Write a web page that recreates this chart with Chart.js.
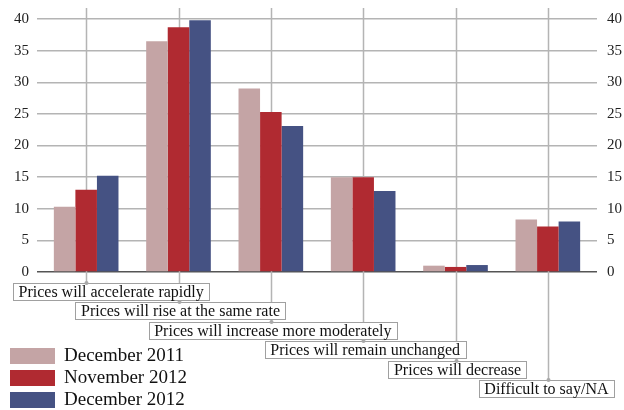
<!DOCTYPE html>
<html>
<head>
<meta charset="utf-8">
<script src="https://cdn.jsdelivr.net/npm/chart.js@4"></script>
<style>
html,body{margin:0;padding:0;background:#fff;}
#wrap{width:624px;height:410px;position:relative;}
</style>
</head>
<body>
<div id="wrap"><canvas id="c" width="624" height="410"></canvas></div>
<script>
const categories = [
  "Prices will accelerate rapidly",
  "Prices will rise at the same rate",
  "Prices will increase more moderately",
  "Prices will remain unchanged",
  "Prices will decrease",
  "Difficult to say/NA"
];
const seriesNames = ["December 2011", "November 2012", "December 2012"];
const dec2011 = [10.3, 36.5, 29.0, 15.0, 1.0, 8.3];
const nov2012 = [13.0, 38.7, 25.3, 15.0, 0.8, 7.2];
const dec2012 = [15.2, 39.8, 23.1, 12.8, 1.1, 8.0];
const yTicks = [0, 5, 10, 15, 20, 25, 30, 35, 40];
const seriesColors = ["#c4a4a5", "#b02a31", "#455283"];

const FONT = "'Liberation Serif', 'Times New Roman', serif";

const annotPlugin = {
  id: 'annot',
  beforeDatasetsDraw(chart) {
    const ctx = chart.ctx;
    const x = chart.scales.x;
    ctx.save();
    ctx.strokeStyle = '#b4b4b4';
    ctx.lineWidth = 1.5;
    categories.forEach((c, i) => {
      const px = Math.round(x.getPixelForValue(i)) + 0.5;
      const boxTop = 283 + i * 19.4;
      ctx.beginPath();
      ctx.moveTo(px, 8);
      ctx.lineTo(px, boxTop);
      ctx.stroke();
    });
    ctx.restore();
  },
  afterDraw(chart) {
    const ctx = chart.ctx;
    const x = chart.scales.x;
    ctx.save();
    ctx.font = '16px ' + FONT;
    ctx.textBaseline = 'middle';
    ctx.textAlign = 'left';
    categories.forEach((c, i) => {
      const cx = x.getPixelForValue(i);
      const tw = ctx.measureText(c).width;
      const bw = tw + 11;
      let left = cx + 2 - bw / 2;
      if (left < 13) left = 13;
      if (left + bw > 614) left = 614 - bw;
      const top = Math.round(283 + i * 19.4);
      const bh = 17;
      ctx.fillStyle = '#ffffff';
      ctx.fillRect(left, top, bw, bh);
      ctx.strokeStyle = '#a0a0a0';
      ctx.lineWidth = 1;
      ctx.strokeRect(Math.round(left) + 0.5, top + 0.5, Math.round(bw), bh);
      ctx.fillStyle = '#111';
      ctx.fillText(c, left + 5.5, top + bh / 2 + 1);
      ctx.fillStyle = '#a8a8a8';
      ctx.beginPath();
      ctx.arc(Math.round(cx) + 0.5, top, 2, 0, Math.PI * 2);
      ctx.fill();
    });
    ctx.font = '19px ' + FONT;
    chart.data.datasets.forEach((ds, i) => {
      const y = 348 + i * 22;
      ctx.fillStyle = ds.backgroundColor;
      ctx.fillRect(10, y, 45, 16);
      ctx.fillStyle = '#111';
      ctx.fillText(ds.label, 64, y + 8.5);
    });
    ctx.restore();
  }
};

new Chart(document.getElementById('c'), {
  type: 'bar',
  data: {
    labels: categories,
    datasets: [
      { label: seriesNames[0], data: dec2011, backgroundColor: seriesColors[0] },
      { label: seriesNames[1], data: nov2012, backgroundColor: seriesColors[1] },
      { label: seriesNames[2], data: dec2012, backgroundColor: seriesColors[2] }
    ]
  },
  options: {
    responsive: false,
    animation: false,
    devicePixelRatio: 1,
    layout: { padding: { top: 16, left: 0, right: 0, bottom: 0 } },
    datasets: { bar: { barPercentage: 1.0, categoryPercentage: 0.7 } },
    plugins: { legend: { display: false }, tooltip: { enabled: false } },
    scales: {
      x: {
        grid: { display: false },
        border: { display: false },
        ticks: { display: false },
        afterFit(s) { s.height = 138; }
      },
      y: {
        position: 'left',
        min: 0, max: 40,
        afterBuildTicks(s) { s.ticks = yTicks.map(v => ({ value: v })); },
        grid: {
          color: (c) => c.tick && c.tick.value === 0 ? '#555555' : '#b4b4b4',
          lineWidth: 1.5,
          tickLength: 3,
          drawTicks: true
        },
        border: { display: false },
        ticks: { color: '#222', font: { family: FONT, size: 15 }, padding: 8 },
        afterFit(s) { s.width = 40; }
      },
      y2: {
        position: 'right',
        min: 0, max: 40,
        afterBuildTicks(s) { s.ticks = yTicks.map(v => ({ value: v })); },
        grid: {
          drawOnChartArea: false,
          color: (c) => c.tick && c.tick.value === 0 ? '#555555' : '#b4b4b4',
          lineWidth: 1.5,
          tickLength: 3
        },
        border: { display: false },
        ticks: { color: '#222', font: { family: FONT, size: 15 }, padding: 10 },
        afterFit(s) { s.width = 30; }
      }
    }
  },
  plugins: [annotPlugin]
});
</script>
</body>
</html>
